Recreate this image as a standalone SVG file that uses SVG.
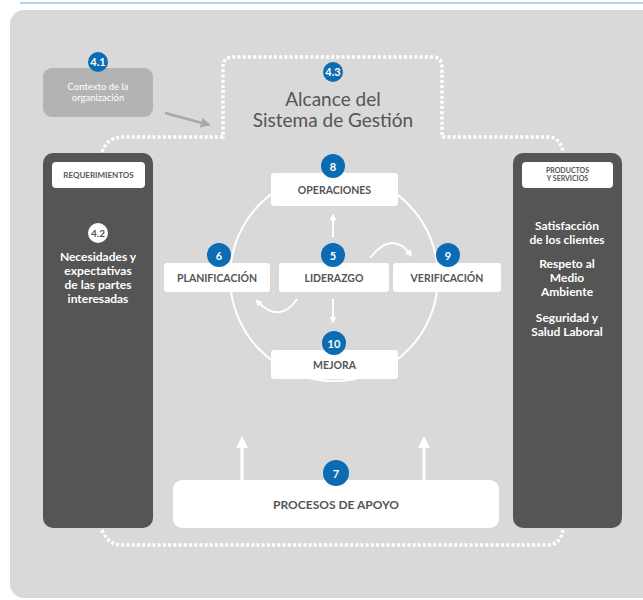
<svg xmlns="http://www.w3.org/2000/svg" width="643" height="600" viewBox="0 0 643 600">
<defs>
<style>
.lbl{font-family:Lato,"Liberation Sans",sans-serif;font-weight:700;fill:#555;text-anchor:middle}
.wt{font-family:Lato,"Liberation Sans",sans-serif;font-weight:700;fill:#fff;text-anchor:middle}
.wr{font-family:Lato,"Liberation Sans",sans-serif;font-weight:400;fill:#fff;text-anchor:middle}
.num{font-family:Lato,"Liberation Sans",sans-serif;font-weight:700;fill:#fff;text-anchor:middle;font-size:11px}
.box{fill:#fff}
.badge{fill:#0b6cb4}
.dark{fill:#555}
.dot{fill:none;stroke:#fff;stroke-width:3.5;stroke-dasharray:3 2.2}
.wl{fill:none;stroke:#fff;stroke-width:2}
</style>
<marker id="ah" viewBox="0 0 10 10" refX="5" refY="5" markerWidth="4" markerHeight="4" orient="auto"><path d="M0,0 L10,5 L0,10 z" fill="#fff"/></marker>
<marker id="ahs" viewBox="0 0 10 10" refX="5" refY="5" markerWidth="3.5" markerHeight="3.5" orient="auto"><path d="M0,0 L10,5 L0,10 z" fill="#fff"/></marker>
<marker id="ahg" viewBox="0 0 10 10" refX="5" refY="5" markerWidth="4" markerHeight="4" orient="auto"><path d="M0,0 L10,5 L0,10 z" fill="#a8a8a8"/></marker>
</defs>
<line x1="20" y1="3" x2="643" y2="3" stroke="#9cc6e6" stroke-width="1.5"/>
<rect x="10" y="10" width="650" height="588" rx="14" fill="#d9d9d9"/>

<g id="connectors">
<path class="dot" d="M102,152 Q108,137 122,137 L223,137 L223,67 Q223,57 233,57 L432,57 Q442,57 442,67 L442,137 L548,137 Q560,137 563,152"/>
<path class="dot" d="M102,530 Q108,545 122,545 L548,545 Q560,545 563,530"/>
<circle cx="334" cy="277" r="104" class="wl"/>
<line x1="165" y1="113" x2="206" y2="124" stroke="#a8a8a8" stroke-width="2.5" marker-end="url(#ahg)"/>
<line x1="333" y1="237" x2="333" y2="217" class="wl" marker-end="url(#ahs)"/>
<line x1="333" y1="299" x2="333" y2="320" class="wl" marker-end="url(#ahs)"/>
<path d="M370,258 Q392,230 410,254" class="wl" marker-end="url(#ahs)"/>
<path d="M297,299 Q280,324 258,302" class="wl" marker-end="url(#ahs)"/>
<line x1="242" y1="480" x2="242" y2="442" stroke="#fff" stroke-width="3" marker-end="url(#ah)"/>
<line x1="424" y1="480" x2="424" y2="442" stroke="#fff" stroke-width="3" marker-end="url(#ah)"/>
</g>

<g id="n41">
<rect x="43" y="68" width="110" height="49" rx="9" fill="#b3b3b3" stroke="#c4c4c4" stroke-width="1" stroke-dasharray="1 6"/>
<text class="wr" x="98" y="90" font-size="9.5">Contexto de la</text>
<text class="wr" x="98" y="101" font-size="9.5">organización</text>
<circle class="badge" cx="98" cy="62" r="10"/>
<text class="num" x="98" y="66">4.1</text>
</g>

<g id="n43">
<circle class="badge" cx="333" cy="72" r="10"/>
<text class="num" x="333" y="76">4.3</text>
<text x="333" y="106" font-family="Lato,'Liberation Sans',sans-serif" font-size="19" fill="#555" text-anchor="middle">Alcance del</text>
<text x="333" y="127" font-family="Lato,'Liberation Sans',sans-serif" font-size="19" fill="#555" text-anchor="middle">Sistema de Gestión</text>
</g>

<g id="req">
<rect class="dark" x="43" y="153" width="110" height="375" rx="10"/>
<rect class="box" x="52" y="162" width="93" height="26" rx="4"/>
<text class="lbl" x="98.5" y="178" font-size="8">REQUERIMIENTOS</text>
<circle cx="98" cy="233" r="10" fill="#fff"/>
<text x="98" y="237" font-family="Lato,'Liberation Sans',sans-serif" font-weight="700" font-size="10" fill="#555" text-anchor="middle">4.2</text>
<text class="wt" x="98" y="261" font-size="12">Necesidades y</text>
<text class="wt" x="98" y="275" font-size="12">expectativas</text>
<text class="wt" x="98" y="289" font-size="12">de las partes</text>
<text class="wt" x="98" y="303" font-size="12">interesadas</text>
</g>

<g id="prod">
<rect class="dark" x="513" y="153" width="109" height="375" rx="10"/>
<rect class="box" x="522" y="162" width="91" height="26" rx="4"/>
<text class="lbl" x="567.5" y="173" font-size="7">PRODUCTOS</text>
<text class="lbl" x="567.5" y="181" font-size="7">Y SERVICIOS</text>
<text class="wt" x="567" y="230" font-size="12">Satisfacción</text>
<text class="wt" x="567" y="244" font-size="12">de los clientes</text>
<text class="wt" x="567" y="268" font-size="12">Respeto al</text>
<text class="wt" x="567" y="282" font-size="12">Medio</text>
<text class="wt" x="567" y="296" font-size="12">Ambiente</text>
<text class="wt" x="567" y="322" font-size="12">Seguridad y</text>
<text class="wt" x="567" y="336" font-size="12">Salud Laboral</text>
</g>

<g id="n8">
<rect class="box" x="271" y="173" width="127" height="33" rx="3"/>
<text class="lbl" x="334.5" y="194" font-size="10.5">OPERACIONES</text>
<circle class="badge" cx="333" cy="166" r="12"/>
<text class="num" x="333" y="170.5" font-size="12">8</text>
</g>

<g id="n6">
<rect class="box" x="164" y="263" width="106" height="29" rx="3"/>
<text class="lbl" x="217" y="282" font-size="10.5">PLANIFICACIÓN</text>
<circle class="badge" cx="219" cy="255" r="12"/>
<text class="num" x="219" y="259.5" font-size="12">6</text>
</g>

<g id="n5">
<rect class="box" x="279" y="263" width="110" height="29" rx="3"/>
<text class="lbl" x="334" y="282" font-size="10.5">LIDERAZGO</text>
<circle class="badge" cx="333" cy="255" r="12"/>
<text class="num" x="333" y="259.5" font-size="12">5</text>
</g>

<g id="n9">
<rect class="box" x="393" y="263" width="108" height="29" rx="3"/>
<text class="lbl" x="447" y="282" font-size="10.5">VERIFICACIÓN</text>
<circle class="badge" cx="448" cy="255" r="12"/>
<text class="num" x="448" y="259.5" font-size="12">9</text>
</g>

<g id="n10">
<rect class="box" x="271" y="350" width="127" height="29" rx="3"/>
<text class="lbl" x="334.5" y="369" font-size="10.5">MEJORA</text>
<circle class="badge" cx="334" cy="343" r="12"/>
<text class="num" x="334" y="347.5" font-size="12">10</text>
</g>

<g id="n7">
<rect class="box" x="173" y="480" width="326" height="48" rx="9"/>
<text class="lbl" x="336" y="509" font-size="12">PROCESOS DE APOYO</text>
<circle class="badge" cx="336" cy="473" r="13"/>
<text class="num" x="336" y="477.5" font-size="12">7</text>
</g>
</svg>
